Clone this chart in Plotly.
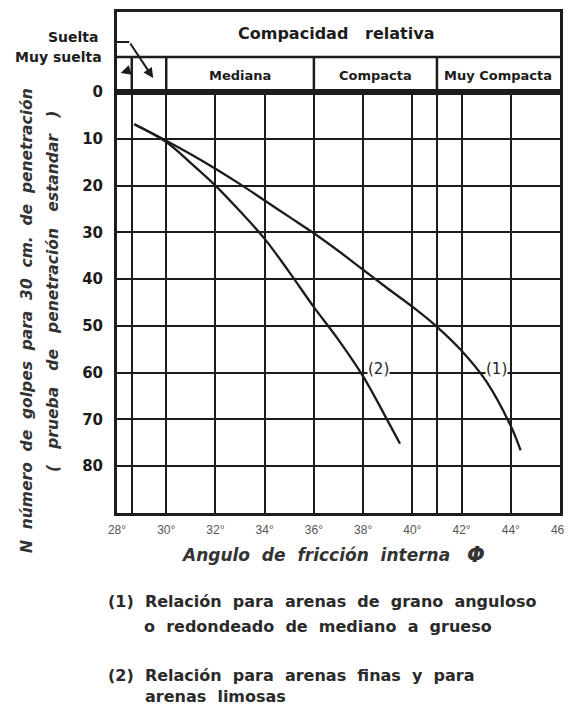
import plotly.graph_objects as go

# ---- data ----
phi_curve1 = [28.7, 30, 31, 32, 33, 34, 35, 36, 37, 38, 39, 40, 41, 42, 43, 44, 44.4]
n_curve1 = [6.9, 10.4, 13.3, 16.4, 19.7, 23.2, 26.7, 30.2, 34.0, 38.0, 42.0, 45.9, 50.2, 55.3, 61.8, 71.4, 76.6]

phi_curve2 = [28.7, 30, 31, 32, 33, 34, 35, 36, 37, 38, 39, 39.5]
n_curve2 = [6.9, 10.7, 15.2, 20.0, 25.5, 31.4, 38.5, 46.0, 53.0, 60.8, 70.3, 75.2]

x_ticks = [28, 28.6, 30, 32, 34, 36, 38, 40, 41, 42, 44, 46]
x_ticktext = ["28°", "", "30°", "32°", "34°", "36°", "38°", "40°", "", "42°", "44°", "46°"]
y_ticks = [0, 10, 20, 30, 40, 50, 60, 70, 80, 90]
y_ticktext = ["0", "10", "20", "30", "40", "50", "60", "70", "80", ""]

# compaction classes: (label, start, end)
classes = [("", 28, 28.6), ("", 28.6, 30), ("Mediana", 30, 36),
           ("Compacta", 36, 41), ("Muy Compacta", 41, 46)]

INK = "#1c1c1c"
FONT = "Liberation Sans, Arial, sans-serif"
BFONT = "DejaVu Sans, Liberation Sans, sans-serif"

def sp(t, n=2):
    return t.replace(" ", "&nbsp;" * n)

fig = go.Figure()

fig.add_trace(go.Scatter(x=phi_curve1, y=n_curve1, mode="lines",
                         line=dict(color=INK, width=2.3, shape="spline", smoothing=1.0),
                         hoverinfo="skip", showlegend=False))
fig.add_trace(go.Scatter(x=phi_curve2, y=n_curve2, mode="lines",
                         line=dict(color=INK, width=2.3, shape="spline", smoothing=1.0),
                         hoverinfo="skip", showlegend=False))
# invisible trace to activate header axes
fig.add_trace(go.Scatter(x=[28, 46], y=[0, 80], xaxis="x2", yaxis="y2", mode="markers",
                         marker=dict(opacity=0), hoverinfo="skip", showlegend=False))

split = 421 / 501

# page body has an 8px margin, so the figure is 8px smaller than the window
fig.update_layout(
    width=564, height=700,
    margin=dict(l=109, r=12, t=4, b=195, autoexpand=False),
    paper_bgcolor="white", plot_bgcolor="white",
    xaxis=dict(range=[28, 46], tickvals=x_ticks, ticktext=x_ticktext,
               showgrid=True, gridcolor=INK, gridwidth=2, zeroline=False,
               showline=True, linecolor=INK, linewidth=3, mirror=True,
               ticks="outside", ticklen=4, tickcolor="rgba(0,0,0,0)",
               tickfont=dict(family=FONT, size=12, color="#555"),
               domain=[0, 1], anchor="y", automargin=False),
    yaxis=dict(range=[90, 0], tickvals=y_ticks, ticktext=y_ticktext,
               showgrid=True, gridcolor=INK, gridwidth=2, zeroline=False,
               showline=True, linecolor=INK, linewidth=3, mirror=True,
               ticks="outside", ticklen=8, tickcolor="rgba(0,0,0,0)",
               tickfont=dict(family=BFONT, size=15, color=INK, weight="bold"),
               domain=[0, split], anchor="x", automargin=False),
    xaxis2=dict(range=[28, 46], showgrid=False, zeroline=False, showticklabels=False,
                showline=True, linecolor=INK, linewidth=3, mirror=True,
                domain=[0, 1], anchor="y2", ticks="", automargin=False),
    yaxis2=dict(range=[80, 0], showgrid=False, zeroline=False, showticklabels=False,
                showline=True, linecolor=INK, linewidth=3, mirror=True,
                domain=[split, 1], anchor="x2", ticks="", automargin=False),
)

shapes = []
# header horizontal divider
shapes.append(dict(type="line", xref="x2", yref="y2", x0=28, x1=46, y0=45, y1=45,
                   line=dict(color=INK, width=2.5)))
annotations = []
for label, a, b in classes:
    if a > 28:
        shapes.append(dict(type="line", xref="x2", yref="y2", x0=a, x1=a, y0=45, y1=80,
                           line=dict(color=INK, width=2.5)))
    if label:
        annotations.append(dict(xref="x2", yref="y2", x=(a + b) / 2, y=63, text="<b>" + label + "</b>",
                                showarrow=False, font=dict(family=BFONT, size=13, color=INK)))

annotations.append(dict(xref="x2", yref="y2", x=36.9, y=21, text="<b>" + sp("Compacidad relativa", 3) + "</b>",
                        showarrow=False, font=dict(family=BFONT, size=16, color=INK)))
annotations.append(dict(xref="x2", yref="y2", x=28, y=25, xanchor="right", xshift=-17,
                        text="<b>Suelta</b>", showarrow=False, font=dict(family=BFONT, size=14, color=INK)))
annotations.append(dict(xref="x2", yref="y2", x=28, y=45, xanchor="right", xshift=-13,
                        text="<b>Muy suelta</b>", showarrow=False, font=dict(family=BFONT, size=14, color=INK)))
# Suelta pointer
shapes.append(dict(type="line", xref="x2", yref="y2", x0=28, x1=28.5, y0=30, y1=30,
                   line=dict(color=INK, width=2)))
annotations.append(dict(xref="x2", yref="y2", x=29.47, y=66, ax=28.5, ay=30,
                        axref="x2", ayref="y2", showarrow=True, arrowhead=2, arrowsize=1,
                        arrowwidth=2, arrowcolor=INK, text=""))
# Muy suelta pointer
shapes.append(dict(type="line", xref="x2", yref="y2", x0=27.76, x1=27.9, y0=45, y1=51,
                   line=dict(color=INK, width=1.5)))
annotations.append(dict(xref="x2", yref="y2", x=28.15, y=61, ax=28.4, ay=59,
                        axref="x2", ayref="y2", showarrow=True, arrowhead=2, arrowsize=1,
                        arrowwidth=2, arrowcolor=INK, text=""))

# curve labels
annotations.append(dict(xref="x", yref="y", x=38.63, y=59.2, text="(2)", showarrow=False,
                        bgcolor="white", borderpad=0, font=dict(family=BFONT, size=15, color=INK)))
annotations.append(dict(xref="x", yref="y", x=43.4, y=59.2, text="(1)", showarrow=False,
                        bgcolor="white", borderpad=0, font=dict(family=BFONT, size=15, color=INK)))

# axis titles (positions relative to the plot area, in reference pixels)
def px(xp):
    return (xp - 117) / 443

def py(yp):
    return (513 - yp) / 501

annotations.append(dict(xref="paper", yref="paper", x=px(27), y=py(321), textangle=-90,
                        xanchor="center", yanchor="middle",
                        text="<b><i>" + sp("N número de golpes para 30 cm. de penetración") + "</i></b>",
                        showarrow=False, font=dict(family=BFONT, size=15.5, color="#333")))
annotations.append(dict(xref="paper", yref="paper", x=px(53), y=py(292), textangle=-90,
                        xanchor="center", yanchor="middle",
                        text="<b><i>" + sp("( prueba de penetración estandar )", 3) + "</i></b>",
                        showarrow=False, font=dict(family=BFONT, size=15.5, color="#333")))
annotations.append(dict(xref="paper", yref="paper", x=px(315), y=py(555),
                        xanchor="center", yanchor="middle",
                        text="<b><i>" + sp("Angulo de fricción interna") + "</i></b>",
                        showarrow=False, font=dict(family=BFONT, size=17, color="#333")))
annotations.append(dict(xref="paper", yref="paper", x=px(476), y=py(555),
                        xanchor="center", yanchor="middle",
                        text="<b><i>Φ</i></b>",
                        showarrow=False, font=dict(family=BFONT, size=21, color="#333")))

notes = [
    (106, 601.7, "(1) Relación para arenas de grano anguloso"),
    (142, 626.7, "o redondeado de mediano a grueso"),
    (106, 675, "(2) Relación para arenas finas y para"),
    (143, 696.7, "arenas limosas"),
]
for xp, yp, t in notes:
    annotations.append(dict(xref="paper", yref="paper", x=px(xp), y=py(yp),
                            xanchor="left", yanchor="middle",
                            text="<b>" + sp(t, 2) + "</b>", showarrow=False,
                            font=dict(family=BFONT, size=16, color="#2a2a2a")))

fig.update_layout(shapes=shapes, annotations=annotations)
fig.write_html("out.html")
